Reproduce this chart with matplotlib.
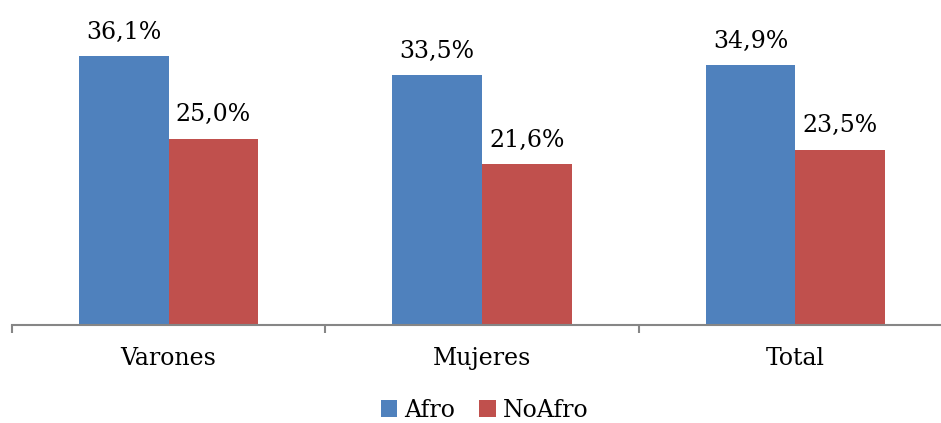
import matplotlib.pyplot as plt
import numpy as np

categorias = ['Varones', 'Mujeres', 'Total']
afro = [36.1, 33.5, 34.9]
no_afro = [25.0, 21.6, 23.5]

plt.rcParams['font.family'] = ['DejaVu Serif']

fig = plt.figure(figsize=(9.41, 4.23), dpi=100)
# el eje se sale un poco por la derecha
ax = fig.add_axes([12/941, 98/423, 940/941, 298/423])

x = np.arange(len(categorias))
w = 1/3.5
b1 = ax.bar(x - w/2, afro, w, color='#4F81BD', label='Afro')
b2 = ax.bar(x + w/2, no_afro, w, color='#C0504D', label='NoAfro')

for bars, vals in ((b1, afro), (b2, no_afro)):
    for r, v in zip(bars, vals):
        ax.annotate(('%.1f%%' % v).replace('.', ','),
                    (r.get_x() + r.get_width()/2, v),
                    xytext=(0, 9), textcoords='offset points',
                    ha='center', va='bottom', fontsize=17)

ax.set_xlim(-0.5, 2.5)
ax.set_ylim(0, 40)
ax.set_yticks([])
for s in ['top', 'right', 'left']:
    ax.spines[s].set_visible(False)
ax.spines['bottom'].set_color('#868686')
ax.spines['bottom'].set_linewidth(1.5)

ax.set_xticks([-0.5, 0.5, 1.5, 2.5])
ax.set_xticklabels([])
ax.tick_params(axis='x', length=6, width=1.5, color='#868686')
ax.set_xticks(x, minor=True)
ax.set_xticklabels(categorias, minor=True, fontsize=17)
ax.tick_params(axis='x', which='minor', length=0, pad=16)

fig.legend(handles=[b1, b2], labels=['Afro', 'NoAfro'], loc='center',
           bbox_to_anchor=(0.515, 0.03), ncol=2, frameon=False, fontsize=17,
           handlelength=0.7, handleheight=0.7, handletextpad=0.3, columnspacing=1.0)

fig.savefig('out.png', dpi=100)
